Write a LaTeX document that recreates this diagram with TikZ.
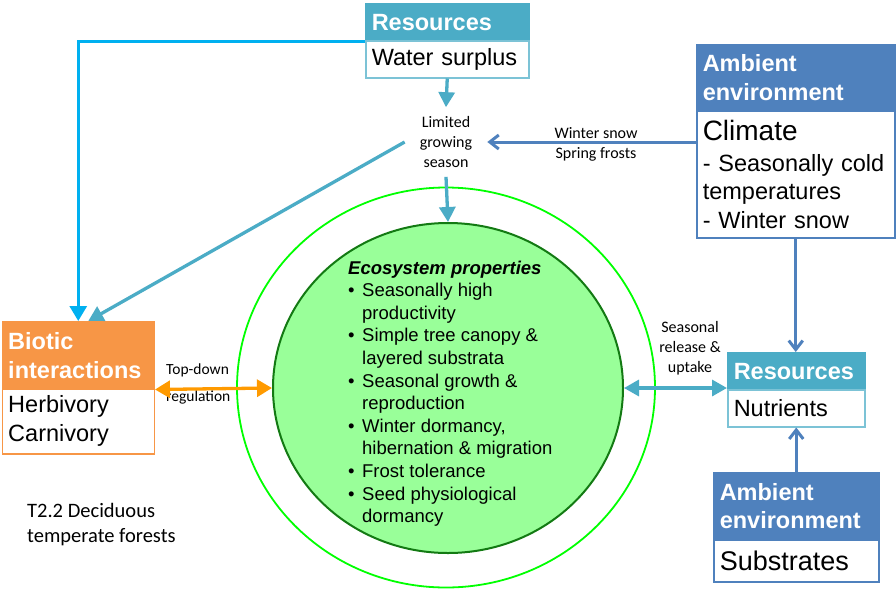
\documentclass[tikz,border=0pt]{standalone}
\usepackage{fontspec}
\setmainfont{Liberation Sans}
\newfontfamily\calib{Carlito}
\usetikzlibrary{arrows.meta,shapes.geometric}
\definecolor{tealc}{HTML}{4BACC6}
\definecolor{tealbord}{HTML}{7CC3D6}
\definecolor{blueA}{HTML}{4F81BD}
\definecolor{orangeH}{HTML}{F79646}
\definecolor{orangeA}{HTML}{FF9A00}
\definecolor{brightblue}{HTML}{00B0F0}
\definecolor{brightgreen}{HTML}{00FF00}
\definecolor{darkgreen}{HTML}{137A13}
\definecolor{lightgreen}{HTML}{99FF99}
\tikzset{
  hdr/.style={draw=#1,fill=#1,line width=1.5pt,text=white,font=\fontsize{23.5}{28.5}\selectfont\bfseries,align=left,anchor=north west,inner xsep=6pt,inner ysep=0pt},
  bdy/.style={draw=#1,fill=white,line width=1.5pt,font=\fontsize{23.5}{28.5}\selectfont,align=left,anchor=north west,inner xsep=6pt,inner ysep=0pt},
  smalltxt/.style={font=\calib\fontsize{16}{20}\selectfont,inner sep=0pt},
  tealarr/.style={draw=tealc,line width=3.3pt,-{Triangle[width=16pt,length=15pt]}},
  brightarr/.style={draw=brightblue,line width=3pt,-{Triangle[width=17pt,length=15pt]}},
  bluearr/.style={draw=blueA,line width=3pt,-{Straight Barb[length=9pt,width=14pt]}},
  tealdbl/.style={draw=tealc,line width=3.3pt,{Triangle[width=16pt,length=15pt]}-{Triangle[width=16pt,length=15pt]}},
  orangedbl/.style={draw=orangeA,line width=3.3pt,{Triangle[width=17pt,length=15pt]}-{Triangle[width=17pt,length=15pt]}}
}
\begin{document}
\begin{tikzpicture}[x=1pt,y=-1pt]
\useasboundingbox (0,0) rectangle (896,595);
\fill[white] (0,0) rectangle (896,595);

% ellipses
\node[ellipse,draw=brightgreen,line width=1.8pt,minimum width=418pt,minimum height=400pt,inner sep=0pt] (outer) at (446,387.5) {};
\node[ellipse,draw=darkgreen,fill=lightgreen,line width=2pt,minimum width=350pt,minimum height=330pt,inner sep=0pt] (eco) at (448,388) {};

\node[anchor=north west,inner sep=0pt,align=left,font=\fontsize{18.5}{22.6}\selectfont] (ecotext) at (348,260.5)
{{\bfseries\itshape Ecosystem properties}\\
\makebox[14pt][l]{•}Seasonally high\\
\hspace*{14pt}productivity\\
\makebox[14pt][l]{•}Simple tree canopy \&\\
\hspace*{14pt}layered substrata\\
\makebox[14pt][l]{•}Seasonal growth \&\\
\hspace*{14pt}reproduction\\
\makebox[14pt][l]{•}Winter dormancy,\\
\hspace*{14pt}hibernation \& migration\\
\makebox[14pt][l]{•}Frost tolerance\\
\makebox[14pt][l]{•}Seed physiological\\
\hspace*{14pt}dormancy};

% boxes
\node[hdr=tealc,text width=151pt,minimum height=37pt] (r1h) at (365,3) {Resources};
\node[bdy=tealbord,text width=151pt,minimum height=37pt] (r1b) at (365,40) {Water surplus};

\node[hdr=blueA,text width=186pt,minimum height=66pt] (amb1h) at (696,44) {Ambient\\environment};
\node[bdy=blueA,text width=186pt,minimum height=127pt] (amb1b) at (696,110)
{{\fontsize{28}{30}\selectfont Climate}\\[2pt]- Seasonally cold\\temperatures\\- Winter snow};

\node[hdr=orangeH,text width=140pt,minimum height=67pt,font=\fontsize{23.5}{29}\selectfont\bfseries] (bioh) at (1.5,321) {Biotic\\interactions};
\node[bdy=orangeH,text width=140pt,minimum height=65pt,font=\fontsize{23.5}{29}\selectfont] (biob) at (1.5,388) {Herbivory\\Carnivory};

\node[hdr=tealc,text width=125pt,minimum height=37pt] (nutrh) at (727,352) {Resources};
\node[bdy=tealbord,text width=125pt,minimum height=37pt] (nutrb) at (727,389) {Nutrients};

\node[hdr=blueA,text width=153pt,minimum height=67pt] (amb2h) at (713,472) {Ambient\\environment};
\node[bdy=blueA,text width=153pt,minimum height=42pt] (amb2b) at (713,539) {{\fontsize{27}{30}\selectfont Substrates}};

% texts
\node[smalltxt,align=center,inner xsep=15pt,inner ysep=9pt] (limited) at (446,142) {Limited\\growing\\season};
\node[smalltxt,align=center] (wlabel) at (596,144) {Winter snow\\Spring frosts};
\node[smalltxt,align=left,anchor=north west,font=\calib\fontsize{15.5}{27}\selectfont] (tdlabel) at (166,364) {Top-down\\regulation};
\node[smalltxt,align=center,anchor=north] (srlabel) at (690,321) {Seasonal\\release \&\\uptake};
\node[align=left,anchor=north west,inner sep=0pt,font=\calib\fontsize{20.5}{25}\selectfont] (title) at (27,503.5) {T2.2 Deciduous\\temperate forests};

% connectors
\draw[tealarr] (r1b.south) -- (limited.north);
\draw[tealarr] (limited.south) -- (eco.north);
\draw[bluearr] (amb1b.west |- limited.east) -- (limited.east);
\draw[tealarr] (limited.west) -- ([xshift=10pt]bioh.north);
\draw[brightarr] (r1h.south west) -| (bioh.north);
\draw[bluearr] (amb1b.south) -- (amb1b.south |- nutrh.north);
\draw[bluearr] (amb2h.north) -- (amb2h.north |- nutrb.south);
\draw[tealdbl] (eco.east) -- (eco.east -| nutrh.west);
\draw[orangedbl] (bioh.south east) -- (eco.west);
\end{tikzpicture}
\end{document}
